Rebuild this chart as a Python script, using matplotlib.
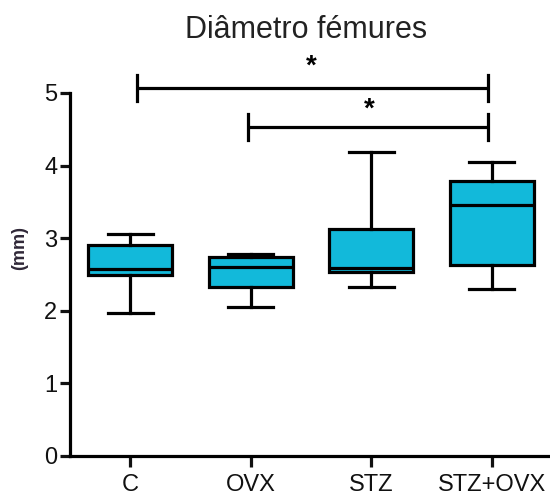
import matplotlib
matplotlib.use("Agg")
import matplotlib.pyplot as plt

plt.rcParams['font.family'] = ['Liberation Sans', 'DejaVu Sans']

# box summaries (mm) per group
groups = ['C', 'OVX', 'STZ', 'STZ+OVX']
whisker_lo = [1.97, 2.05, 2.33, 2.30]
q1 = [2.50, 2.33, 2.54, 2.63]
median = [2.57, 2.61, 2.59, 3.46]
q3 = [2.91, 2.74, 3.13, 3.79]
whisker_hi = [3.06, 2.78, 4.19, 4.05]

# significance brackets: (start group, end group, height)
brackets = [(1.06, 3.97, 5.07), (1.98, 3.97, 4.53)]
star_pos = [(2.5, 5.36), (2.98, 4.77)]

box_color = '#12B9DA'
lw = 2.3

fig = plt.figure(figsize=(5.5, 4.97), dpi=100)
ax = fig.add_axes([70 / 550, 41 / 497, 1 - 70 / 550, (456 - 93) / 497])

stats = []
for i, g in enumerate(groups):
    stats.append(dict(label=g, whislo=whisker_lo[i], q1=q1[i], med=median[i],
                      q3=q3[i], whishi=whisker_hi[i], fliers=[]))

ax.bxp(stats, positions=[1, 2, 3, 4], widths=0.7, capwidths=0.37,
       patch_artist=True, showfliers=False,
       boxprops=dict(facecolor=box_color, edgecolor='black', linewidth=lw),
       medianprops=dict(color='black', linewidth=lw),
       whiskerprops=dict(color='black', linewidth=lw),
       capprops=dict(color='black', linewidth=lw))

ax.set_xlim(0.5, 4.483)
ax.set_ylim(0, 5)
ax.set_yticks([0, 1, 2, 3, 4, 5])
ax.set_xticks([1, 2, 3, 4])
ax.set_xticklabels(groups)

for side in ('top', 'right'):
    ax.spines[side].set_visible(False)
for side in ('left', 'bottom'):
    ax.spines[side].set_linewidth(lw)
ax.tick_params(axis='y', length=7, width=lw, labelsize=17, pad=2, colors='#111111')
ax.tick_params(axis='x', length=8, width=lw, labelsize=17, pad=5, colors='#111111')

# significance brackets with stars
for x0, x1, h in brackets:
    ax.plot([x0, x1], [h, h], color='black', lw=lw, clip_on=False, solid_capstyle='butt')
    for xe in (x0, x1):
        ax.plot([xe, xe], [h - 0.18, h + 0.18], color='black', lw=lw, clip_on=False)
for xs, ys in star_pos:
    ax.text(xs, ys, '*', ha='center', va='center', fontsize=20, fontweight='bold')

fig.text(306 / 550, 1 - 38 / 497, 'Diâmetro fémures', ha='center', va='baseline',
         fontsize=22, color='#222222')
fig.text(20 / 550, 1 - 248 / 497, '(mm)', rotation=90, ha='center', va='center',
         fontsize=13, fontweight='bold', color='#302838')

fig.savefig('out.png', dpi=100)
